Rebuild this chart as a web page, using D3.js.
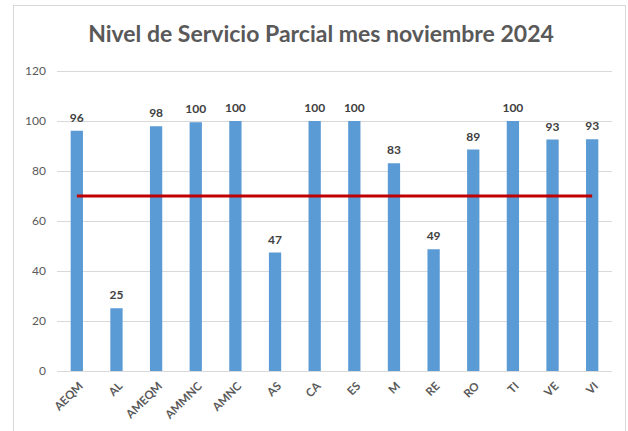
<!DOCTYPE html>
<html><head><meta charset="utf-8">
<script src="https://cdn.jsdelivr.net/npm/d3@7/dist/d3.min.js"></script>
<style>body{margin:0;background:#fff}svg{display:block}</style>
</head><body>
<svg id="c" width="628" height="431"></svg>
<script>
const title = "Nivel de Servicio Parcial mes noviembre 2024";
const categories = ["AEQM","AL","AMEQM","AMMNC","AMNC","AS","CA","ES","M","RE","RO","TI","VE","VI"];
const values = [96.1, 25.1, 97.9, 99.5, 100, 47.4, 100, 100, 83.1, 48.7, 88.6, 100, 92.6, 92.7];
const target = 70;
const yTicks = [0, 20, 40, 60, 80, 100, 120];

const svg = d3.select("#c");
const FONT = "Lato, 'Open Sans', sans-serif";
const m = {left: 57, right: 16, top: 71, bottom: 60};
const x = d3.scaleBand().domain(categories).range([m.left, 612]).paddingInner(0.69).paddingOuter(0.345);
const y = d3.scaleLinear().domain([0, 120]).range([371, 71]);

// frame
svg.append("rect").attr("x", 13.5).attr("y", 5.5).attr("width", 612).attr("height", 440)
  .attr("fill", "none").attr("stroke", "#d9d9d9").attr("stroke-width", 1);

// title
svg.append("text").attr("x", 321).attr("y", 42).attr("text-anchor", "middle")
  .attr("font-family", FONT).attr("font-size", 23).attr("font-weight", "bold")
  .attr("fill", "#595959").text(title);

// gridlines
const yAxis = d3.axisLeft(y).tickValues(yTicks).tickSize(-(612 - m.left)).tickPadding(11);
const gy = svg.append("g").attr("transform", `translate(${m.left},0)`).call(yAxis);
gy.select(".domain").remove();
gy.selectAll(".tick line").attr("stroke", "#d9d9d9").attr("stroke-width", 1);
gy.selectAll(".tick text").attr("fill", "#595959").attr("font-size", 12)
  .attr("font-family", FONT);

// bars
svg.append("g").selectAll("rect").data(categories).join("rect")
  .attr("x", d => x(d)).attr("width", x.bandwidth())
  .attr("y", (d, i) => y(values[i])).attr("height", (d, i) => y(0) - y(values[i]))
  .attr("fill", "#5b9bd5");

// x axis
const xAxis = d3.axisBottom(x).tickSize(0).tickPadding(0);
const gx = svg.append("g").attr("transform", `translate(0,${y(0)})`).call(xAxis);
gx.select(".domain").attr("stroke", "#d9d9d9").attr("d", `M${m.left},0.5H612`);
gx.selectAll(".tick text")
  .attr("font-family", FONT).attr("font-size", 11.5).attr("font-weight", "bold")
  .attr("fill", "#595959").attr("text-anchor", "end")
  .attr("transform", "translate(4,13) rotate(-45)").attr("dy", "0.35em");

// data labels
svg.append("g").selectAll("text").data(categories).join("text")
  .attr("x", d => x(d) + x.bandwidth() / 2).attr("y", (d, i) => y(values[i]) - 9)
  .attr("text-anchor", "middle").attr("font-family", FONT)
  .attr("font-size", 12).attr("font-weight", "bold").attr("fill", "#404040")
  .text((d, i) => d3.format(".0f")(values[i]));

// target line
const line = d3.line().x(d => x(d) + x.bandwidth() / 2).y(() => y(target));
svg.append("path").datum(categories).attr("d", line)
  .attr("stroke", "#c00000").attr("stroke-width", 3).attr("fill", "none");
</script>
</body></html>
